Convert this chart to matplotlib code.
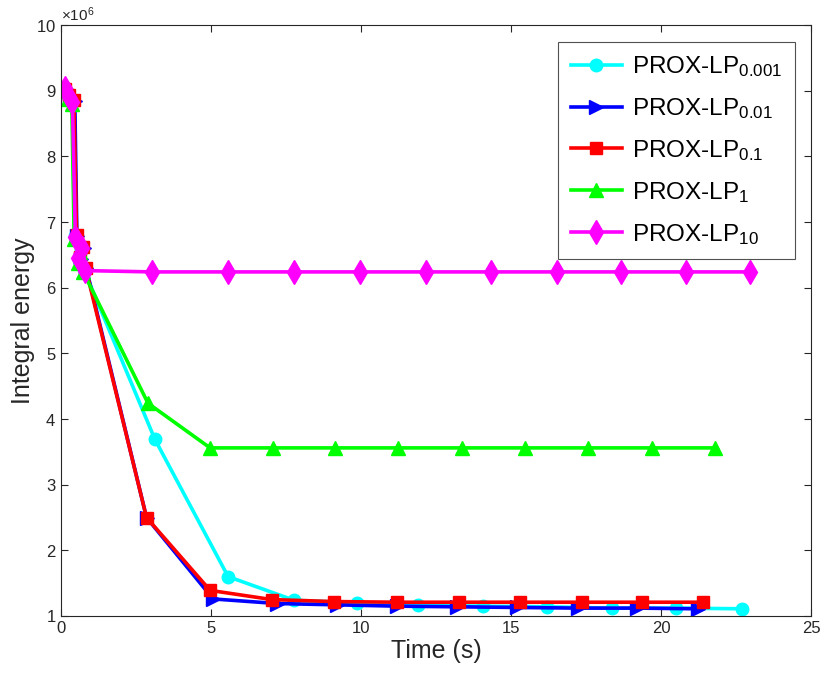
import matplotlib
matplotlib.use("Agg")
import matplotlib.pyplot as plt
from matplotlib.ticker import ScalarFormatter

plt.rcParams['font.family'] = ['Liberation Sans', 'DejaVu Sans']
plt.rcParams['mathtext.fontset'] = 'custom'
plt.rcParams['mathtext.rm'] = 'Liberation Sans'
plt.rcParams['mathtext.it'] = 'Liberation Sans'

# time (s) and integral energy (x 1e6)
t_0001 = [0.12, 0.25, 0.38, 0.45, 0.68, 0.6, 0.76, 3.13, 5.57, 7.77, 9.87, 11.9,
          14.07, 16.2, 18.37, 20.5, 22.7]
e_0001 = [9.02, 8.92, 8.85, 6.78, 6.58, 6.42, 6.28, 3.69, 1.6, 1.24, 1.2, 1.16,
          1.15, 1.14, 1.12, 1.12, 1.11]

t_001 = [0.16, 0.3, 0.46, 0.53, 0.76, 0.66, 0.84, 2.85, 5.07, 7.2, 9.2, 11.2,
         13.2, 15.2, 17.23, 19.2, 21.23]
e_001 = [9.02, 8.92, 8.85, 6.78, 6.6, 6.44, 6.3, 2.5, 1.26, 1.19, 1.17, 1.15,
         1.14, 1.13, 1.12, 1.12, 1.11]

t_01 = [0.14, 0.27, 0.43, 0.52, 0.74, 0.64, 0.82, 2.85, 4.97, 7.03, 9.1, 11.2,
        13.27, 15.3, 17.37, 19.37, 21.4]
e_01 = [9.03, 8.93, 8.86, 6.8, 6.62, 6.46, 6.3, 2.5, 1.39, 1.25, 1.22, 1.21,
        1.21, 1.21, 1.21, 1.21, 1.21]

t_1 = [0.1, 0.22, 0.36, 0.44, 0.64, 0.56, 0.74, 2.9, 4.97, 7.07, 9.13, 11.23,
       13.37, 15.47, 17.57, 19.7, 21.8]
e_1 = [9.0, 8.88, 8.8, 6.74, 6.55, 6.38, 6.24, 4.24, 3.56, 3.56, 3.56, 3.56,
       3.56, 3.56, 3.56, 3.56, 3.56]

t_10 = [0.13, 0.25, 0.38, 0.48, 0.7, 0.58, 0.8, 3.03, 5.57, 7.77, 9.97, 12.17,
        14.33, 16.53, 18.67, 20.83, 22.97]
e_10 = [9.04, 8.9, 8.82, 6.77, 6.6, 6.45, 6.26, 6.24, 6.24, 6.24, 6.24, 6.24,
        6.24, 6.24, 6.24, 6.24, 6.24]

series = [
    (t_0001, e_0001, '#00ffff', 'o', 9, r'PROX-LP$_{0.001}$'),
    (t_001, e_001, '#0000ff', '>', 10, r'PROX-LP$_{0.01}$'),
    (t_01, e_01, '#ff0000', 's', 8, r'PROX-LP$_{0.1}$'),
    (t_1, e_1, '#00ff00', '^', 10, r'PROX-LP$_{1}$'),
    (t_10, e_10, '#ff00ff', 'd', 12, r'PROX-LP$_{10}$'),
]

fig = plt.figure(figsize=(8.22, 6.77), dpi=100)
ax = fig.add_axes([61 / 822, 1 - 616 / 677, 750 / 822, 591 / 677])

for t, e, c, m, ms, lab in series:
    ax.plot(t, [v * 1e6 for v in e], color=c, marker=m, markersize=ms,
            linewidth=2.6, label=lab)

ax.set_xlim(0, 25)
ax.set_ylim(1e6, 10e6)
ax.set_xticks([0, 5, 10, 15, 20, 25])
ax.set_yticks([i * 1e6 for i in range(1, 11)])

fmt = ScalarFormatter(useMathText=True)
fmt.set_powerlimits((6, 6))
ax.yaxis.set_major_formatter(fmt)
ax.yaxis.get_offset_text().set_fontsize(11)

ax.tick_params(direction='in', top=True, right=True, labelsize=12,
               length=5, width=0.8, colors='#262626')
for sp in ax.spines.values():
    sp.set_color('#262626')
    sp.set_linewidth(0.8)

ax.set_xlabel('Time (s)', fontsize=18, color='#262626', labelpad=2)
ax.set_ylabel('Integral energy', fontsize=18, color='#262626', labelpad=1)

leg = ax.legend(loc='upper right', bbox_to_anchor=(795 / 822, 1 - 42 / 677),
                bbox_transform=fig.transFigure, borderaxespad=0,
                fontsize=17.5, frameon=True, fancybox=False,
                edgecolor='#262626', handlelength=2.1, labelspacing=0.7,
                borderpad=0.5, handletextpad=0.45)
leg.get_frame().set_linewidth(0.8)

fig.savefig('out.png', dpi=100)
